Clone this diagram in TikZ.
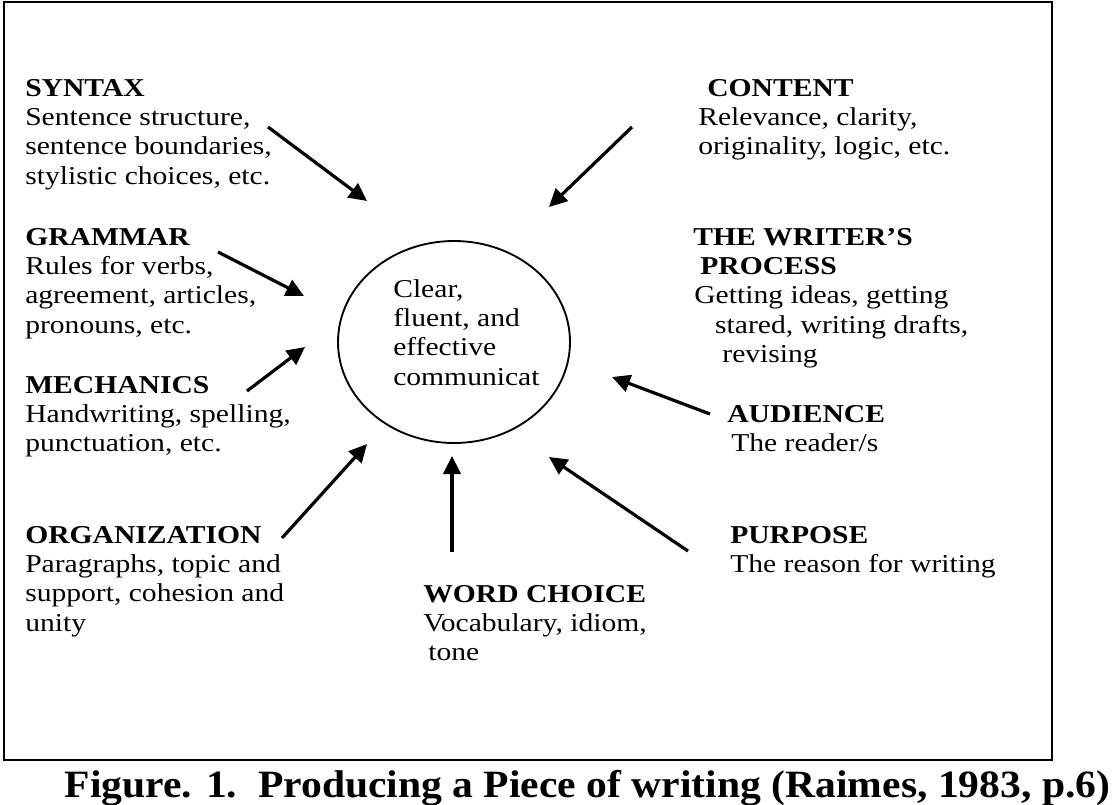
\documentclass[tikz,border=0pt]{standalone}
\usepackage{fontspec}
\setmainfont{Liberation Serif}
\usepackage{graphicx}
\usetikzlibrary{arrows.meta,positioning,shapes.geometric}
\newcommand\blk[1]{\scalebox{1.15}[1]{\begin{tabular}[t]{@{}l@{}}#1\end{tabular}}}

\begin{document}
\begin{tikzpicture}[
    x=0.75pt, y=-0.75pt,
    area/.style={anchor=base west, inner sep=0pt, font=\fontsize{19.3}{22}\selectfont},
    goal/.style={draw, ellipse, line width=1.4pt, minimum width=174pt, minimum height=151.5pt, inner sep=0pt},
    arrow/.style={-{Triangle[length=13.5pt,width=13pt]}, line width=2.4pt},
]
\useasboundingbox (0,0) rectangle (1112,804);
\draw[line width=1.6pt] (4,2) rectangle (1052,760);

\node[goal] (circ) at (454,342) {};
\node[area] (aim) at (393,297) {\blk{Clear,\\fluent, and\\effective\\communicat}};

\node[area] (syntax) at (25,96) {\blk{\textbf{SYNTAX}\\Sentence structure,\\sentence boundaries,\\stylistic choices, etc.}};
\node[area] (grammar) at (25,245) {\blk{\textbf{GRAMMAR}\\Rules for verbs,\\agreement, articles,\\pronouns, etc.}};
\node[area] (mech) at (25,393) {\blk{\textbf{MECHANICS}\\Handwriting, spelling,\\punctuation, etc.}};
\node[area] (org) at (25,543) {\blk{\textbf{ORGANIZATION}\\Paragraphs, topic and\\support, cohesion and\\unity}};
\node[area] (word) at (423,602) {\blk{\textbf{WORD CHOICE}\\Vocabulary, idiom,\\\hspace*{3.3pt}tone}};
\node[area] (content) at (698,96) {\blk{\hspace*{5.9pt}\textbf{CONTENT}\\Relevance, clarity,\\originality, logic, etc.}};
\node[area] (process) at (693,245) {\blk{\textbf{THE WRITER'S}\\\hspace*{4.6pt}\textbf{PROCESS}\\\hspace*{0.7pt}Getting ideas, getting\\\hspace*{14.3pt}stared, writing drafts,\\\hspace*{19pt}revising}};
\node[area] (aud) at (727,422) {\blk{\textbf{AUDIENCE}\\\hspace*{2.6pt}The reader/s}};
\node[area] (purp) at (730,543) {\blk{\textbf{PURPOSE}\\The reason for writing}};

\coordinate (syntax-a) at (268,127);  \coordinate (syntax-b) at (367,201);
\coordinate (content-a) at (632,127); \coordinate (content-b) at (549,207);
\coordinate (grammar-a) at (218,252); \coordinate (grammar-b) at (304,296);
\coordinate (mech-a) at (247,391);    \coordinate (mech-b) at (305,347);
\coordinate (org-a) at (282,538);     \coordinate (org-b) at (367,444);
\coordinate (word-a) at (452,552);    \coordinate (word-b) at (452,456);
\coordinate (purp-a) at (688,551);    \coordinate (purp-b) at (549,457);
\coordinate (aud-a) at (710,414);     \coordinate (aud-b) at (612,377);

\draw[arrow] (syntax-a) -- (syntax-b);
\draw[arrow] (content-a) -- (content-b);
\draw[arrow] (grammar-a) -- (grammar-b);
\draw[arrow] (mech-a) -- (mech-b);
\draw[arrow] (org-a) -- (org-b);
\draw[arrow] (word-a) -- (word-b);
\draw[arrow] (purp-a) -- (purp-b);
\draw[arrow] (aud-a) -- (aud-b);

\node[anchor=base, inner sep=0pt] (caption) at (587.5,797) {\resizebox{784pt}{\height}{\fontsize{29}{29}\selectfont\bfseries Figure. 1.\ \ Producing a Piece of writing (Raimes, 1983, p.6)}};
\end{tikzpicture}
\end{document}
